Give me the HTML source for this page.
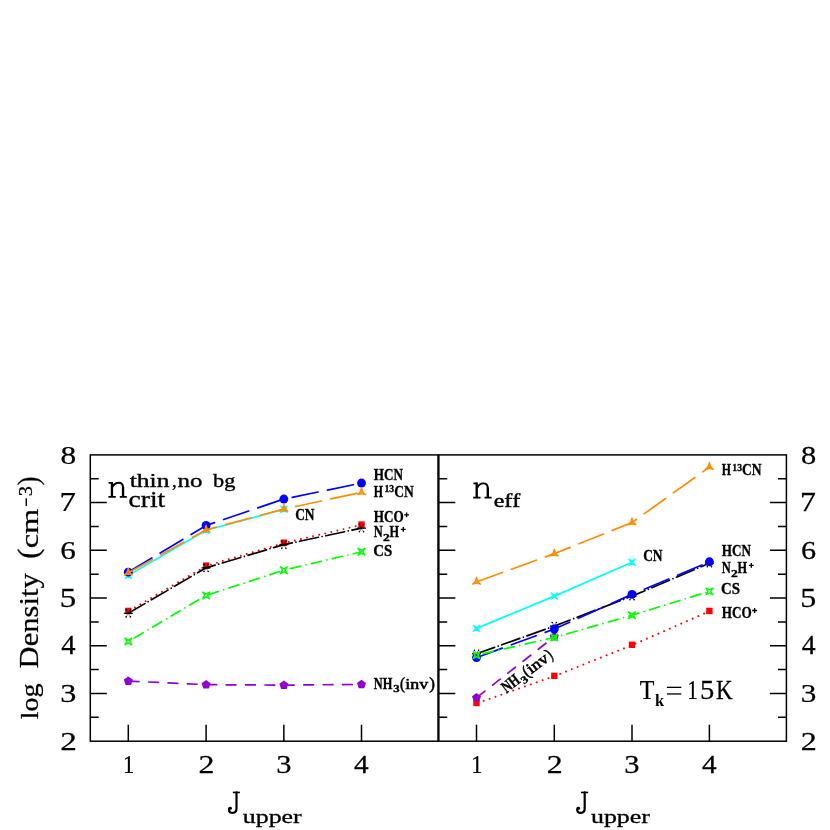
<!DOCTYPE html>
<html><head><meta charset="utf-8"><title>plot</title>
<style>html,body{margin:0;padding:0;background:#fff;overflow:hidden;width:830px;height:830px}svg{display:block;will-change:transform}</style>
</head><body>
<svg width="830" height="830" viewBox="0 0 830 830">
<rect width="830" height="830" fill="#fff"/>
<polyline points="128.3,575.38 206.1,530.29 283.85,509.3" fill="none" stroke="#00ffff" stroke-width="1.7" stroke-linecap="round" stroke-linejoin="round"/>
<polygon points="131.48,572.2 129.2,575.38 131.48,578.57 128.3,576.28 125.12,578.57 127.4,575.38 125.12,572.2 128.3,574.48" fill="none" stroke="#00ffff" stroke-width="1.25" stroke-linejoin="round"/>
<polygon points="209.28,527.11 207,530.29 209.28,533.47 206.1,531.19 202.92,533.47 205.2,530.29 202.92,527.11 206.1,529.39" fill="none" stroke="#00ffff" stroke-width="1.25" stroke-linejoin="round"/>
<polygon points="287.03,506.12 284.75,509.3 287.03,512.48 283.85,510.2 280.67,512.48 282.95,509.3 280.67,506.12 283.85,508.4" fill="none" stroke="#00ffff" stroke-width="1.25" stroke-linejoin="round"/>
<polyline points="128.3,610.93 206.1,565.65 283.85,542.7 361.5,524.57" fill="none" stroke="#ff0000" stroke-width="1.95" stroke-linecap="round" stroke-linejoin="round" stroke-dasharray="0.01 6.23" stroke-dashoffset="-1.4" transform="translate(0 0.35)"/>
<rect x="125.1" y="607.73" width="6.4" height="6.4" fill="#ff0000"/>
<rect x="202.9" y="562.45" width="6.4" height="6.4" fill="#ff0000"/>
<rect x="280.65" y="539.5" width="6.4" height="6.4" fill="#ff0000"/>
<rect x="358.3" y="521.37" width="6.4" height="6.4" fill="#ff0000"/>
<polyline points="128.3,613.32 206.1,567.85 283.85,544.61 361.5,528.15" fill="none" stroke="#000000" stroke-width="1.7" stroke-linecap="round" stroke-linejoin="round" stroke-dasharray="19.2 3.78 0.01 3.78" stroke-dashoffset="0"/>
<path d="M123.8 613.32h9" stroke="#000" stroke-width="1.1" fill="none"/><polygon points="132.6,613.32 129.17,613.82 130.45,617.04 128.3,614.32 126.15,617.04 127.43,613.82 124,613.32 127.43,612.82 126.15,609.6 128.3,612.32 130.45,609.6 129.17,612.82" fill="none" stroke="#000" stroke-width="0.45" stroke-opacity="0.55"/><circle cx="126.2" cy="609.72" r="0.8" fill="#000"/><circle cx="126.2" cy="616.92" r="0.8" fill="#000"/><circle cx="130.4" cy="609.72" r="0.8" fill="#000"/><circle cx="130.4" cy="616.92" r="0.8" fill="#000"/>
<path d="M201.6 567.85h9" stroke="#000" stroke-width="1.1" fill="none"/><polygon points="210.4,567.85 206.97,568.35 208.25,571.57 206.1,568.85 203.95,571.57 205.23,568.35 201.8,567.85 205.23,567.35 203.95,564.12 206.1,566.85 208.25,564.12 206.97,567.35" fill="none" stroke="#000" stroke-width="0.45" stroke-opacity="0.55"/><circle cx="204" cy="564.25" r="0.8" fill="#000"/><circle cx="204" cy="571.45" r="0.8" fill="#000"/><circle cx="208.2" cy="564.25" r="0.8" fill="#000"/><circle cx="208.2" cy="571.45" r="0.8" fill="#000"/>
<path d="M279.35 544.61h9" stroke="#000" stroke-width="1.1" fill="none"/><polygon points="288.15,544.61 284.72,545.11 286,548.33 283.85,545.61 281.7,548.33 282.98,545.11 279.55,544.61 282.98,544.11 281.7,540.88 283.85,543.61 286,540.88 284.72,544.11" fill="none" stroke="#000" stroke-width="0.45" stroke-opacity="0.55"/><circle cx="281.75" cy="541.01" r="0.8" fill="#000"/><circle cx="281.75" cy="548.21" r="0.8" fill="#000"/><circle cx="285.95" cy="541.01" r="0.8" fill="#000"/><circle cx="285.95" cy="548.21" r="0.8" fill="#000"/>
<path d="M357 528.15h9" stroke="#000" stroke-width="1.1" fill="none"/><polygon points="365.8,528.15 362.37,528.65 363.65,531.87 361.5,529.15 359.35,531.87 360.63,528.65 357.2,528.15 360.63,527.65 359.35,524.42 361.5,527.15 363.65,524.42 362.37,527.65" fill="none" stroke="#000" stroke-width="0.45" stroke-opacity="0.55"/><circle cx="359.4" cy="524.55" r="0.8" fill="#000"/><circle cx="359.4" cy="531.75" r="0.8" fill="#000"/><circle cx="363.6" cy="524.55" r="0.8" fill="#000"/><circle cx="363.6" cy="531.75" r="0.8" fill="#000"/>
<polyline points="128.3,681.08 206.1,684.66 283.85,685.13 361.5,684.42" fill="none" stroke="#9400d3" stroke-width="1.7" stroke-linecap="round" stroke-linejoin="round" stroke-dasharray="9.7 9.7" stroke-dashoffset="-1"/>
<polygon points="128.3,676.38 132.77,679.62 131.06,684.88 125.54,684.88 123.83,679.62" fill="#9400d3"/>
<polygon points="206.1,679.96 210.57,683.2 208.86,688.46 203.34,688.46 201.63,683.2" fill="#9400d3"/>
<polygon points="283.85,680.43 288.32,683.68 286.61,688.94 281.09,688.94 279.38,683.68" fill="#9400d3"/>
<polygon points="361.5,679.72 365.97,682.96 364.26,688.22 358.74,688.22 357.03,682.96" fill="#9400d3"/>
<polyline points="128.3,572.14 206.1,525.52 283.85,499.04 361.5,483.05" fill="none" stroke="#0000ff" stroke-width="1.7" stroke-linecap="round" stroke-linejoin="round" stroke-dasharray="26.4 9.65" stroke-dashoffset="-1.1"/>
<circle cx="128.3" cy="572.14" r="4.45" fill="#0000ff"/>
<circle cx="206.1" cy="525.52" r="4.45" fill="#0000ff"/>
<circle cx="283.85" cy="499.04" r="4.45" fill="#0000ff"/>
<circle cx="361.5" cy="483.05" r="4.45" fill="#0000ff"/>
<polyline points="128.3,572.76 206.1,529.82 283.85,509.06 361.5,492.36" fill="none" stroke="#ff8c00" stroke-width="1.7" stroke-linecap="round" stroke-linejoin="round" stroke-dasharray="26.4 9.65" stroke-dashoffset="-1.1"/>
<polygon points="128.3,568.16 129.51,572.06 132.28,575.06 128.3,574.16 124.32,575.06 127.09,572.06" fill="#ff8c00" fill-opacity="0.8" stroke="#ff8c00" stroke-width="1.25" stroke-linejoin="round"/>
<polygon points="206.1,525.22 207.31,529.12 210.08,532.12 206.1,531.22 202.12,532.12 204.89,529.12" fill="#ff8c00" fill-opacity="0.8" stroke="#ff8c00" stroke-width="1.25" stroke-linejoin="round"/>
<polygon points="283.85,504.46 285.06,508.36 287.83,511.36 283.85,510.46 279.87,511.36 282.64,508.36" fill="#ff8c00" fill-opacity="0.8" stroke="#ff8c00" stroke-width="1.25" stroke-linejoin="round"/>
<polygon points="361.5,487.76 362.71,491.66 365.48,494.66 361.5,493.76 357.52,494.66 360.29,491.66" fill="#ff8c00" fill-opacity="0.8" stroke="#ff8c00" stroke-width="1.25" stroke-linejoin="round"/>
<polyline points="128.3,641.47 206.1,595.43 283.85,570.14 361.5,551.76" fill="none" stroke="#00ff00" stroke-width="1.7" stroke-linecap="round" stroke-linejoin="round" stroke-dasharray="10.3 5.6 0.01 5.6" stroke-dashoffset="14.6"/>
<polygon points="131.69,638.08 129.7,641.47 131.69,644.87 128.3,642.87 124.91,644.87 126.9,641.47 124.91,638.08 128.3,640.07" fill="none" stroke="#00ff00" stroke-width="1.4" stroke-linejoin="round"/>
<polygon points="209.49,592.03 207.5,595.43 209.49,598.82 206.1,596.83 202.71,598.82 204.7,595.43 202.71,592.03 206.1,594.03" fill="none" stroke="#00ff00" stroke-width="1.4" stroke-linejoin="round"/>
<polygon points="287.24,566.74 285.25,570.14 287.24,573.53 283.85,571.54 280.46,573.53 282.45,570.14 280.46,566.74 283.85,568.74" fill="none" stroke="#00ff00" stroke-width="1.4" stroke-linejoin="round"/>
<polygon points="364.89,548.37 362.9,551.76 364.89,555.16 361.5,553.16 358.11,555.16 360.1,551.76 358.11,548.37 361.5,550.36" fill="none" stroke="#00ff00" stroke-width="1.4" stroke-linejoin="round"/>
<polyline points="476.5,628.35 554.3,596.14 632,562.26" fill="none" stroke="#00ffff" stroke-width="1.7" stroke-linecap="round" stroke-linejoin="round"/>
<polygon points="479.68,625.17 477.4,628.35 479.68,631.53 476.5,629.25 473.32,631.53 475.6,628.35 473.32,625.17 476.5,627.45" fill="none" stroke="#00ffff" stroke-width="1.25" stroke-linejoin="round"/>
<polygon points="557.48,592.96 555.2,596.14 557.48,599.32 554.3,597.04 551.12,599.32 553.4,596.14 551.12,592.96 554.3,595.24" fill="none" stroke="#00ffff" stroke-width="1.25" stroke-linejoin="round"/>
<polygon points="635.18,559.08 632.9,562.26 635.18,565.44 632,563.16 628.82,565.44 631.1,562.26 628.82,559.08 632,561.36" fill="none" stroke="#00ffff" stroke-width="1.25" stroke-linejoin="round"/>
<polyline points="476.5,703.03 554.3,675.83 632,644.81 709.4,610.93" fill="none" stroke="#ff0000" stroke-width="1.95" stroke-linecap="round" stroke-linejoin="round" stroke-dasharray="0.01 6.23" stroke-dashoffset="-1.4" transform="translate(0 0.35)"/>
<rect x="473.3" y="699.83" width="6.4" height="6.4" fill="#ff0000"/>
<rect x="551.1" y="672.63" width="6.4" height="6.4" fill="#ff0000"/>
<rect x="628.8" y="641.61" width="6.4" height="6.4" fill="#ff0000"/>
<rect x="706.2" y="607.73" width="6.4" height="6.4" fill="#ff0000"/>
<polyline points="476.5,653.78 554.3,626.11 632,596.14 709.4,563.22" fill="none" stroke="#000000" stroke-width="1.7" stroke-linecap="round" stroke-linejoin="round" stroke-dasharray="19.2 3.78 0.01 3.78" stroke-dashoffset="0"/>
<path d="M472 653.78h9" stroke="#000" stroke-width="1.1" fill="none"/><polygon points="480.8,653.78 477.37,654.28 478.65,657.51 476.5,654.78 474.35,657.51 475.63,654.28 472.2,653.78 475.63,653.28 474.35,650.06 476.5,652.78 478.65,650.06 477.37,653.28" fill="none" stroke="#000" stroke-width="0.45" stroke-opacity="0.55"/><circle cx="474.4" cy="650.18" r="0.8" fill="#000"/><circle cx="474.4" cy="657.38" r="0.8" fill="#000"/><circle cx="478.6" cy="650.18" r="0.8" fill="#000"/><circle cx="478.6" cy="657.38" r="0.8" fill="#000"/>
<path d="M549.8 626.11h9" stroke="#000" stroke-width="1.1" fill="none"/><polygon points="558.6,626.11 555.17,626.61 556.45,629.83 554.3,627.11 552.15,629.83 553.43,626.61 550,626.11 553.43,625.61 552.15,622.38 554.3,625.11 556.45,622.38 555.17,625.61" fill="none" stroke="#000" stroke-width="0.45" stroke-opacity="0.55"/><circle cx="552.2" cy="622.51" r="0.8" fill="#000"/><circle cx="552.2" cy="629.71" r="0.8" fill="#000"/><circle cx="556.4" cy="622.51" r="0.8" fill="#000"/><circle cx="556.4" cy="629.71" r="0.8" fill="#000"/>
<path d="M627.5 596.14h9" stroke="#000" stroke-width="1.1" fill="none"/><polygon points="636.3,596.14 632.87,596.64 634.15,599.87 632,597.14 629.85,599.87 631.13,596.64 627.7,596.14 631.13,595.64 629.85,592.42 632,595.14 634.15,592.42 632.87,595.64" fill="none" stroke="#000" stroke-width="0.45" stroke-opacity="0.55"/><circle cx="629.9" cy="592.54" r="0.8" fill="#000"/><circle cx="629.9" cy="599.74" r="0.8" fill="#000"/><circle cx="634.1" cy="592.54" r="0.8" fill="#000"/><circle cx="634.1" cy="599.74" r="0.8" fill="#000"/>
<path d="M704.9 563.22h9" stroke="#000" stroke-width="1.1" fill="none"/><polygon points="713.7,563.22 710.27,563.72 711.55,566.94 709.4,564.22 707.25,566.94 708.53,563.72 705.1,563.22 708.53,562.72 707.25,559.49 709.4,562.22 711.55,559.49 710.27,562.72" fill="none" stroke="#000" stroke-width="0.45" stroke-opacity="0.55"/><circle cx="707.3" cy="559.62" r="0.8" fill="#000"/><circle cx="707.3" cy="566.82" r="0.8" fill="#000"/><circle cx="711.5" cy="559.62" r="0.8" fill="#000"/><circle cx="711.5" cy="566.82" r="0.8" fill="#000"/>
<polyline points="476.5,697.78 554.3,636.7" fill="none" stroke="#9400d3" stroke-width="1.7" stroke-linecap="round" stroke-linejoin="round" stroke-dasharray="9.7 9.7" stroke-dashoffset="-1"/>
<polygon points="476.5,693.08 480.97,696.33 479.26,701.58 473.74,701.58 472.03,696.33" fill="#9400d3"/>
<polygon points="554.3,632 558.77,635.25 557.06,640.5 551.54,640.5 549.83,635.25" fill="#9400d3"/>
<polyline points="476.5,657.6 554.3,629.07 632,594.38 709.4,561.79" fill="none" stroke="#0000ff" stroke-width="1.7" stroke-linecap="round" stroke-linejoin="round" stroke-dasharray="26.4 9.65" stroke-dashoffset="-1.1"/>
<circle cx="476.5" cy="657.6" r="4.45" fill="#0000ff"/>
<circle cx="554.3" cy="629.07" r="4.45" fill="#0000ff"/>
<circle cx="632" cy="594.38" r="4.45" fill="#0000ff"/>
<circle cx="709.4" cy="561.79" r="4.45" fill="#0000ff"/>
<polyline points="476.5,581.83 554.3,553.67 632,522.51 709.4,467.07" fill="none" stroke="#ff8c00" stroke-width="1.7" stroke-linecap="round" stroke-linejoin="round" stroke-dasharray="26.4 9.65" stroke-dashoffset="-1.1"/>
<polygon points="476.5,577.23 477.71,581.13 480.48,584.13 476.5,583.23 472.52,584.13 475.29,581.13" fill="#ff8c00" fill-opacity="0.8" stroke="#ff8c00" stroke-width="1.25" stroke-linejoin="round"/>
<polygon points="554.3,549.07 555.51,552.97 558.28,555.97 554.3,555.07 550.32,555.97 553.09,552.97" fill="#ff8c00" fill-opacity="0.8" stroke="#ff8c00" stroke-width="1.25" stroke-linejoin="round"/>
<polygon points="632,517.91 633.21,521.81 635.98,524.81 632,523.91 628.02,524.81 630.79,521.81" fill="#ff8c00" fill-opacity="0.8" stroke="#ff8c00" stroke-width="1.25" stroke-linejoin="round"/>
<polygon points="709.4,462.47 710.61,466.37 713.38,469.37 709.4,468.47 705.42,469.37 708.19,466.37" fill="#ff8c00" fill-opacity="0.8" stroke="#ff8c00" stroke-width="1.25" stroke-linejoin="round"/>
<polyline points="476.5,655.17 554.3,637.42 632,615.23 709.4,591.37" fill="none" stroke="#00ff00" stroke-width="1.7" stroke-linecap="round" stroke-linejoin="round" stroke-dasharray="10.3 5.6 0.01 5.6" stroke-dashoffset="14.6"/>
<polygon points="479.89,651.77 477.9,655.17 479.89,658.56 476.5,656.57 473.11,658.56 475.1,655.17 473.11,651.77 476.5,653.77" fill="none" stroke="#00ff00" stroke-width="1.4" stroke-linejoin="round"/>
<polygon points="557.69,634.02 555.7,637.42 557.69,640.81 554.3,638.82 550.91,640.81 552.9,637.42 550.91,634.02 554.3,636.02" fill="none" stroke="#00ff00" stroke-width="1.4" stroke-linejoin="round"/>
<polygon points="635.39,611.83 633.4,615.23 635.39,618.62 632,616.63 628.61,618.62 630.6,615.23 628.61,611.83 632,613.83" fill="none" stroke="#00ff00" stroke-width="1.4" stroke-linejoin="round"/>
<polygon points="712.79,587.98 710.8,591.37 712.79,594.76 709.4,592.77 706.01,594.76 708,591.37 706.01,587.98 709.4,589.97" fill="none" stroke="#00ff00" stroke-width="1.4" stroke-linejoin="round"/>
<g stroke="#000" stroke-width="1.5" fill="none" stroke-linecap="butt">
<rect x="90.3" y="454.9" width="347.7" height="286.3"/>
<rect x="438.85" y="454.9" width="347.55" height="286.3"/>
<path d="M90.3 717.34h8.4 M438.85 717.34h8.4 M786.4 717.34h-8.4 M90.3 693.48h16.5 M438.85 693.48h16.5 M786.4 693.48h-16.5 M90.3 669.62h8.4 M438.85 669.62h8.4 M786.4 669.62h-8.4 M90.3 645.77h16.5 M438.85 645.77h16.5 M786.4 645.77h-16.5 M90.3 621.91h8.4 M438.85 621.91h8.4 M786.4 621.91h-8.4 M90.3 598.05h16.5 M438.85 598.05h16.5 M786.4 598.05h-16.5 M90.3 574.19h8.4 M438.85 574.19h8.4 M786.4 574.19h-8.4 M90.3 550.33h16.5 M438.85 550.33h16.5 M786.4 550.33h-16.5 M90.3 526.48h8.4 M438.85 526.48h8.4 M786.4 526.48h-8.4 M90.3 502.62h16.5 M438.85 502.62h16.5 M786.4 502.62h-16.5 M90.3 478.76h8.4 M438.85 478.76h8.4 M786.4 478.76h-8.4 M128.3 741.2v-16.5 M206.1 741.2v-16.5 M283.85 741.2v-16.5 M361.5 741.2v-16.5 M476.5 741.2v-16.5 M554.3 741.2v-16.5 M632 741.2v-16.5 M709.4 741.2v-16.5"/>
</g>
<g font-family="'Liberation Serif', serif" fill="#000" style="font-kerning:none">
<text transform="translate(60.24 749.9) scale(1.2698 1)" font-size="26.13" stroke="#000" stroke-width="0.25">2</text>
<text transform="translate(800.79 749.9) scale(1.2316 1)" font-size="26.13" stroke="#000" stroke-width="0.25">2</text>
<text transform="translate(60.16 702.18) scale(1.2322 1)" font-size="26.13" stroke="#000" stroke-width="0.25">3</text>
<text transform="translate(800.71 702.18) scale(1.1952 1)" font-size="26.13" stroke="#000" stroke-width="0.25">3</text>
<text transform="translate(61.14 654.47) scale(1.0886 1)" font-size="26.28" stroke="#000" stroke-width="0.25">4</text>
<text transform="translate(801.66 654.47) scale(1.0558 1)" font-size="26.28" stroke="#000" stroke-width="0.25">4</text>
<text transform="translate(59.78 606.75) scale(1.2496 1)" font-size="26.42" stroke="#000" stroke-width="0.25">5</text>
<text transform="translate(800.34 606.75) scale(1.2120 1)" font-size="26.42" stroke="#000" stroke-width="0.25">5</text>
<text transform="translate(60.36 559.03) scale(1.1914 1)" font-size="26.13" stroke="#000" stroke-width="0.25">6</text>
<text transform="translate(800.9 559.03) scale(1.1556 1)" font-size="26.13" stroke="#000" stroke-width="0.25">6</text>
<text transform="translate(59.54 511.32) scale(1.2421 1)" font-size="26.42" stroke="#000" stroke-width="0.25">7</text>
<text transform="translate(800.1 511.32) scale(1.2047 1)" font-size="26.42" stroke="#000" stroke-width="0.25">7</text>
<text transform="translate(60.5 463.6) scale(1.2063 1)" font-size="26.01" stroke="#000" stroke-width="0.25">8</text>
<text transform="translate(801.04 463.6) scale(1.1700 1)" font-size="26.01" stroke="#000" stroke-width="0.25">8</text>
<text transform="translate(122.93 772.6) scale(0.8613 1)" font-size="26.05" stroke="#000" stroke-width="0.25">1</text>
<text transform="translate(198.5 772.6) scale(1.2291 1)" font-size="25.98" stroke="#000" stroke-width="0.25">2</text>
<text transform="translate(276.19 772.6) scale(1.1742 1)" font-size="25.98" stroke="#000" stroke-width="0.25">3</text>
<text transform="translate(354.03 772.6) scale(1.1196 1)" font-size="26.13" stroke="#000" stroke-width="0.25">4</text>
<text transform="translate(471.13 772.6) scale(0.8613 1)" font-size="26.05" stroke="#000" stroke-width="0.25">1</text>
<text transform="translate(546.7 772.6) scale(1.2291 1)" font-size="25.98" stroke="#000" stroke-width="0.25">2</text>
<text transform="translate(624.34 772.6) scale(1.1742 1)" font-size="25.98" stroke="#000" stroke-width="0.25">3</text>
<text transform="translate(701.93 772.6) scale(1.1196 1)" font-size="26.13" stroke="#000" stroke-width="0.25">4</text>
<g transform="translate(38.3 0) rotate(-90)">
<text transform="translate(-719.26 0) scale(1.1075 1)" font-size="25.37" stroke="#000" stroke-width="0.25">log</text>
<text transform="translate(-668.38 0) scale(1.1516 1)" font-size="26.57" stroke="#000" stroke-width="0.25">Density</text>
<text transform="translate(-558.63 0) scale(1.0589 1)" font-size="28.68" stroke="#000" stroke-width="0.25">(</text>
<text transform="translate(-548.34 0) scale(1.2412 1)" font-size="26.14" stroke="#000" stroke-width="0.25">cm</text>
<rect x="-506.1" y="-12.7" width="7.8" height="1.4"/>
<text transform="translate(-496.27 -6) scale(1.1127 1)" font-size="18.27" stroke="#000" stroke-width="0.25">3</text>
<text transform="translate(-485.34 0) scale(0.9096 1)" font-size="28.68" stroke="#000" stroke-width="0.25">)</text>
</g>
<g transform="translate(0 0)" fill="none" stroke="#000">
<path d="M232.8 792.45H239.9" stroke-width="1.6"/>
<path d="M236.5 792.4V808.3C236.5 811.4 234.9 812.8 232.7 812.8C230.4 812.8 229.0 811.2 229.0 809.4C229.0 808.2 229.7 807.6 230.5 807.9" stroke-width="2.2" stroke-linecap="round"/>
<circle cx="230.7" cy="808.5" r="1.2" fill="#000" stroke="none"/>
</g>
<text transform="translate(242.76 823) scale(1.3508 1)" font-size="19.17" stroke="#000" stroke-width="0.3">upper</text>
<g transform="translate(348.2 0)" fill="none" stroke="#000">
<path d="M232.8 792.45H239.9" stroke-width="1.6"/>
<path d="M236.5 792.4V808.3C236.5 811.4 234.9 812.8 232.7 812.8C230.4 812.8 229.0 811.2 229.0 809.4C229.0 808.2 229.7 807.6 230.5 807.9" stroke-width="2.2" stroke-linecap="round"/>
<circle cx="230.7" cy="808.5" r="1.2" fill="#000" stroke="none"/>
</g>
<text transform="translate(590.96 823) scale(1.3508 1)" font-size="19.17" stroke="#000" stroke-width="0.3">upper</text>
<g transform="translate(0 0)" fill="none" stroke="#000" stroke-linecap="butt">
<path d="M111.95 482.0V497.0M123.05 487V497.0" stroke-width="2.35"/>
<path d="M108.6 482.85H112M108.4 496.95H115.8M119.8 496.95H126.85" stroke-width="1.7"/>
<path d="M112.6 486.9C114 484 116.3 482.8 118.7 482.8C121.8 482.8 123.05 484.8 123.05 487.6" stroke-width="1.9"/>
</g>
<text transform="translate(129.75 487.3) scale(1.3529 1)" font-size="18.88" stroke="#000" stroke-width="0.35">thin</text>
<text transform="translate(171.88 487.3) scale(0.9593 1)" font-size="19.6" stroke="#000" stroke-width="0.35">,</text>
<text transform="translate(177.43 487.3) scale(1.2852 1)" font-size="19.39" stroke="#000" stroke-width="0.35">no</text>
<text transform="translate(213.1 487.3) scale(1.1825 1)" font-size="18.88" stroke="#000" stroke-width="0.35">bg</text>
<text transform="translate(128.55 507.3) scale(1.1990 1)" font-size="22.91" stroke="#000" stroke-width="0.35">crit</text>
<g transform="translate(364.75 0.6)" fill="none" stroke="#000" stroke-linecap="butt">
<path d="M111.95 482.0V497.0M123.05 487V497.0" stroke-width="2.35"/>
<path d="M108.6 482.85H112M108.4 496.95H115.8M119.8 496.95H126.85" stroke-width="1.7"/>
<path d="M112.6 486.9C114 484 116.3 482.8 118.7 482.8C121.8 482.8 123.05 484.8 123.05 487.6" stroke-width="1.9"/>
</g>
<text transform="translate(493.66 507.2) scale(1.3100 1)" font-size="18.32" stroke="#000" stroke-width="0.45">eff</text>
<text transform="translate(639.67 698.9) scale(0.8911 1)" font-size="26.88" stroke="#000" stroke-width="0.25">T</text>
<text transform="translate(654.89 706.1) scale(0.9908 1)" font-size="16.57" font-weight="bold">k</text>
<rect x="666.9" y="686.7" width="14.4" height="1.3"/><rect x="666.9" y="693.3" width="14.4" height="1.3"/>
<text transform="translate(687.13 698.9) scale(0.7991 1)" font-size="26.66" stroke="#000" stroke-width="0.25">1</text>
<text transform="translate(699.94 698.9) scale(1.0621 1)" font-size="26.88" stroke="#000" stroke-width="0.25">5</text>
<text transform="translate(716.04 698.9) scale(0.8551 1)" font-size="26.88" stroke="#000" stroke-width="0.25">K</text>
</g>
<g font-family="'Liberation Serif', serif" fill="#000" style="font-kerning:none">
<text transform="translate(373.83 479.6) scale(0.7835 1)" font-size="16.8" font-weight="bold" stroke="#000" stroke-width="0.35">HCN</text>
<text transform="translate(373.85 496.6) scale(0.7079 1)" font-size="16.8" font-weight="bold" stroke="#000" stroke-width="0.35">H</text>
<text transform="translate(384.42 491.9) scale(0.9289 1)" font-size="10.45" font-weight="bold" stroke="#000" stroke-width="0.35">13</text>
<text transform="translate(394.14 496.6) scale(0.8074 1)" font-size="16.8" font-weight="bold" stroke="#000" stroke-width="0.35">CN</text>
<text transform="translate(295.14 519.9) scale(0.8010 1)" font-size="16.8" font-weight="bold" stroke="#000" stroke-width="0.35">CN</text>
<text transform="translate(373.83 522.4) scale(0.7831 1)" font-size="16.8" font-weight="bold" stroke="#000" stroke-width="0.35">HCO</text>
<path d="M404.15 514.9h4.9M406.6 512.45v4.9" stroke="#000" stroke-width="1.4" fill="none"/>
<text transform="translate(373.81 536.85) scale(0.7420 1)" font-size="16.8" font-weight="bold" stroke="#000" stroke-width="0.35">N</text>
<text transform="translate(383.03 540.85) scale(1.1833 1)" font-size="11.4" font-weight="bold" stroke="#000" stroke-width="0.35">2</text>
<text transform="translate(389.59 536.85) scale(0.7319 1)" font-size="16.8" font-weight="bold" stroke="#000" stroke-width="0.35">H</text>
<path d="M400.85 529.35h4.9M403.3 526.9v4.9" stroke="#000" stroke-width="1.4" fill="none"/>
<text transform="translate(373.32 556) scale(0.8876 1)" font-size="16.8" font-weight="bold" stroke="#000" stroke-width="0.35">CS</text>
<text transform="translate(373.86 688.5) scale(0.7358 1)" font-size="16.8" font-weight="bold" stroke="#000" stroke-width="0.35">NH</text>
<text transform="translate(393.22 692.1) scale(1.1977 1)" font-size="10.72" font-weight="bold" stroke="#000" stroke-width="0.35">3</text>
<text transform="translate(400.05 688.5) scale(0.8703 1)" font-size="17" stroke="#000" stroke-width="0.55">(</text>
<text transform="translate(405.32 688.5) scale(1.1476 1)" font-size="15.6" stroke="#000" stroke-width="0.6">inv</text>
<text transform="translate(429.15 688.5) scale(1.0077 1)" font-size="17" stroke="#000" stroke-width="0.55">)</text>
<text transform="translate(721.8 475.2) scale(0.7079 1)" font-size="16.8" font-weight="bold" stroke="#000" stroke-width="0.35">H</text>
<text transform="translate(732.37 470.5) scale(0.9289 1)" font-size="10.45" font-weight="bold" stroke="#000" stroke-width="0.35">13</text>
<text transform="translate(742.09 475.2) scale(0.8074 1)" font-size="16.8" font-weight="bold" stroke="#000" stroke-width="0.35">CN</text>
<text transform="translate(643.14 560.6) scale(0.8010 1)" font-size="16.8" font-weight="bold" stroke="#000" stroke-width="0.35">CN</text>
<text transform="translate(721.83 555.9) scale(0.7835 1)" font-size="16.8" font-weight="bold" stroke="#000" stroke-width="0.35">HCN</text>
<text transform="translate(721.81 572.9) scale(0.7420 1)" font-size="16.8" font-weight="bold" stroke="#000" stroke-width="0.35">N</text>
<text transform="translate(731.03 576.9) scale(1.1833 1)" font-size="11.4" font-weight="bold" stroke="#000" stroke-width="0.35">2</text>
<text transform="translate(737.59 572.9) scale(0.7319 1)" font-size="16.8" font-weight="bold" stroke="#000" stroke-width="0.35">H</text>
<path d="M748.85 565.4h4.9M751.3 562.95v4.9" stroke="#000" stroke-width="1.4" fill="none"/>
<text transform="translate(721.07 594) scale(0.8876 1)" font-size="16.8" font-weight="bold" stroke="#000" stroke-width="0.35">CS</text>
<text transform="translate(721.83 618) scale(0.7831 1)" font-size="16.8" font-weight="bold" stroke="#000" stroke-width="0.35">HCO</text>
<path d="M752.15 610.5h4.9M754.6 608.05v4.9" stroke="#000" stroke-width="1.4" fill="none"/>
<g transform="translate(506.6 693.3) rotate(-37.5)">
<text transform="translate(-0.24 0) scale(0.7358 1)" font-size="16.8" font-weight="bold" stroke="#000" stroke-width="0.35">NH</text>
<text transform="translate(19.12 3.6) scale(1.1977 1)" font-size="10.72" font-weight="bold" stroke="#000" stroke-width="0.35">3</text>
<text transform="translate(25.95 0) scale(0.8703 1)" font-size="17" stroke="#000" stroke-width="0.55">(</text>
<text transform="translate(31.22 0) scale(1.1476 1)" font-size="15.6" stroke="#000" stroke-width="0.6">inv</text>
<text transform="translate(55.2 0) scale(0.7329 1)" font-size="17" stroke="#000" stroke-width="0.55">)</text>
</g>
</g>
</g>
</svg>
</body></html>
